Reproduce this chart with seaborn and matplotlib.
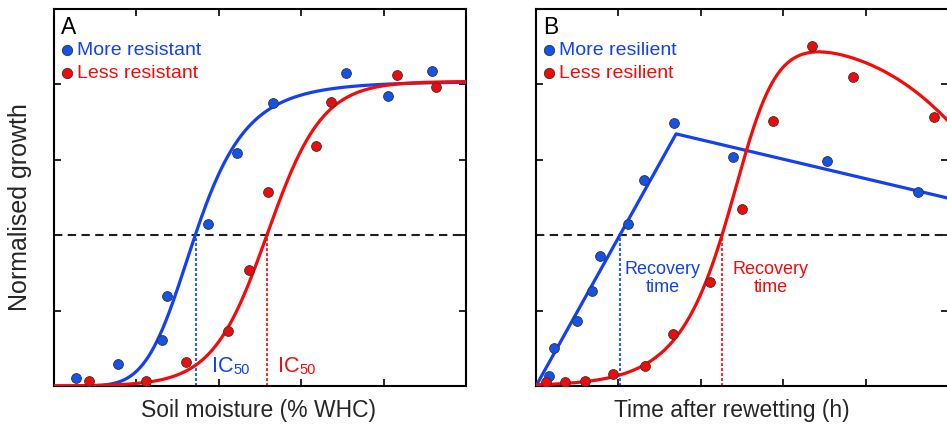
import numpy as np
import matplotlib
matplotlib.use("Agg")
import matplotlib.pyplot as plt
import seaborn as sns

# ---- Panel A: growth along a soil-moisture gradient (% WHC) ----
moist_more = [5.3, 15.5, 26.2, 27.4, 37.4, 44.4, 53.2, 70.9, 81.1, 91.7]
growth_more = [0.027, 0.073, 0.153, 0.298, 0.537, 0.773, 0.938, 1.038, 0.962, 1.044]
moist_less = [8.5, 22.3, 32.0, 42.2, 47.3, 51.9, 63.6, 67.2, 83.3, 92.7]
growth_less = [0.017, 0.017, 0.080, 0.182, 0.385, 0.643, 0.796, 0.942, 1.031, 0.991]

# dose-response fits: shared plateau, IC50 per community
plateau = 1.01
ic50_more, ic50_less = 34.4, 51.8
hill_more = 5.5        # Hill coefficient (log-logistic fit)
slope_less = 0.15      # logistic slope

# ---- Panel B: growth after rewetting (h) ----
time_more = [3.2, 4.4, 10.0, 13.6, 15.5, 22.3, 26.2, 33.5, 47.8, 70.6, 92.7]
growth_more_b = [0.033, 0.126, 0.216, 0.315, 0.431, 0.537, 0.683, 0.872, 0.759, 0.746, 0.643]
time_less = [2.4, 7.0, 11.9, 18.7, 26.5, 33.3, 42.2, 50.0, 57.5, 67.0, 76.9, 96.6]
growth_less_b = [0.013, 0.013, 0.017, 0.040, 0.066, 0.172, 0.345, 0.587, 0.879, 1.127, 1.025, 0.892]

# broken-stick fit for the more resilient community
stick_time = [0, 34.0, 100]
stick_growth = [0, 0.836, 0.623]

# rise-and-decline fit for the less resilient community
rise_amp, rise_rate, rise_shape, rise_mid = 1.17, 0.22, 2.0, 51.85
fall_rate, fall_mid = 0.065, 117.0

half_growth = 0.5

BLUE = "#1240f2"
BLUE_PT = "#1552e6"
BLUE_DOT = "#2a5cff"
RED = "#f50a0a"
RED_PT = "#ee0b0b"
RED_DOT = "#ff2a2a"
DARK = "#1e1e1e"


def hill(x, top, ic50, h):
    return top * x ** h / (x ** h + ic50 ** h)


def logistic(x, top, mid, k):
    return top / (1.0 + np.exp(-k * (x - mid)))


def rise_decline(x):
    rise = (1.0 + np.exp(-rise_rate * (x - rise_mid))) ** (-1.0 / rise_shape)
    fall = 1.0 / (1.0 + np.exp(fall_rate * (x - fall_mid)))
    return rise_amp * rise * fall


sns.set_theme(style="ticks")
plt.rcParams["font.family"] = ["Liberation Sans", "DejaVu Sans"]

fig = plt.figure(figsize=(9.47, 4.24), dpi=100)
W, H = 947.0, 424.0
ax_a = fig.add_axes([54 / W, (H - 386) / H, 412 / W, 377 / H])
ax_b = fig.add_axes([536 / W, (H - 386) / H, 412 / W, 377 / H])

grid = np.linspace(0, 100, 600)
pt_kw = dict(s=50, edgecolor="#333333", linewidth=0.6, zorder=5)

# ---------------- Panel A ----------------
ax = ax_a
sns.lineplot(x=grid, y=hill(grid, plateau, ic50_more, hill_more), ax=ax,
             color=BLUE, lw=2.3, legend=False, zorder=3)
sns.lineplot(x=grid, y=logistic(grid, plateau, ic50_less, slope_less), ax=ax,
             color=RED, lw=2.3, legend=False, zorder=3)
sns.scatterplot(x=moist_more, y=growth_more, ax=ax, color=BLUE_PT,
                label="More resistant", **pt_kw)
sns.scatterplot(x=moist_less, y=growth_less, ax=ax, color=RED_PT,
                label="Less resistant", **pt_kw)
ax.axhline(half_growth, color=DARK, lw=1.5, ls=(0, (4, 2.6)), zorder=2)
for ic, col in [(ic50_more, BLUE_DOT), (ic50_less, RED_DOT)]:
    ax.plot([ic, ic], [0, half_growth], color=col, lw=1.5, ls=(0, (1.4, 1.0)), zorder=2)

for ic, gap, col in [(ic50_more, 4.0, BLUE), (ic50_less, 2.6, RED)]:
    t = ax.text(ic + gap, 0.046, "IC", color=col, fontsize=15.5,
                ha="left", va="baseline")
    ax.annotate("50", xy=(1, 0), xycoords=t, color=col, fontsize=10.5,
                ha="left", va="bottom")

ax.text(0.017, 0.982, "A", transform=ax.transAxes, fontsize=16.5,
        ha="left", va="top", color="black")
ax.set_xlabel("Soil moisture (% WHC)", fontsize=16.5)
ax.set_ylabel("Normalised growth", fontsize=18)

# ---------------- Panel B ----------------
ax = ax_b
sns.lineplot(x=stick_time, y=stick_growth, ax=ax, color=BLUE, lw=2.3,
             legend=False, zorder=3)
sns.lineplot(x=grid, y=rise_decline(grid), ax=ax, color=RED, lw=2.3,
             legend=False, zorder=3)
sns.scatterplot(x=time_more, y=growth_more_b, ax=ax, color=BLUE_PT,
                label="More resilient", **pt_kw)
sns.scatterplot(x=time_less, y=growth_less_b, ax=ax, color=RED_PT,
                label="Less resilient", **pt_kw)
ax.axhline(half_growth, color=DARK, lw=1.5, ls=(0, (4, 2.6)), zorder=2)

# recovery times: first crossing of half growth on each fitted curve
rec_more = np.interp(half_growth, stick_growth[:2], stick_time[:2])
rise_part = grid[grid < 68]
rec_less = np.interp(half_growth, rise_decline(rise_part), rise_part)
for rt, col in [(rec_more, BLUE_DOT), (rec_less, RED_DOT)]:
    ax.plot([rt, rt], [0, half_growth], color=col, lw=1.5, ls=(0, (1.4, 1.0)), zorder=2)
for rt, gap, col in [(rec_more, 10.4, BLUE), (rec_less, 11.8, RED)]:
    ax.text(rt + gap, 0.313, "Recovery\ntime", color=col, fontsize=13,
            ha="center", va="baseline", linespacing=1.02, multialignment="center")

ax.text(0.017, 0.982, "B", transform=ax.transAxes, fontsize=16.5,
        ha="left", va="top", color="black")
ax.set_xlabel("Time after rewetting (h)", fontsize=16.5)
ax.set_ylabel("")

# ---------------- shared styling ----------------
for ax in (ax_a, ax_b):
    ax.set_xlim(0, 100)
    ax.set_ylim(0, 1.25)
    ax.set_xticks([20, 40, 60, 80])
    ax.set_yticks([0.25, 0.5, 0.75, 1.0])
    ax.tick_params(direction="in", length=5, width=1.2, top=True, right=True,
                   labelbottom=False, labelleft=False, color="black")
    for sp in ax.spines.values():
        sp.set_visible(True)
        sp.set_linewidth(1.5)
        sp.set_color("black")
    ax.legend(loc="upper left", bbox_to_anchor=(0.012, 0.914),
              frameon=False, fontsize=14, handletextpad=0.15,
              labelspacing=0.26, borderaxespad=0, borderpad=0,
              handlelength=0.8, markerscale=1.05, labelcolor=[BLUE, RED])
    ax.xaxis.label.set_va("center")

ax_a.xaxis.set_label_coords(0.496, -0.0637, transform=ax_a.transAxes)
ax_b.xaxis.set_label_coords(0.4757, -0.0637, transform=ax_b.transAxes)
ax_a.yaxis.set_label_coords(-0.0825, 0.4735, transform=ax_a.transAxes)
ax_a.yaxis.label.set_va("center")

fig.savefig("out.png", dpi=100)
